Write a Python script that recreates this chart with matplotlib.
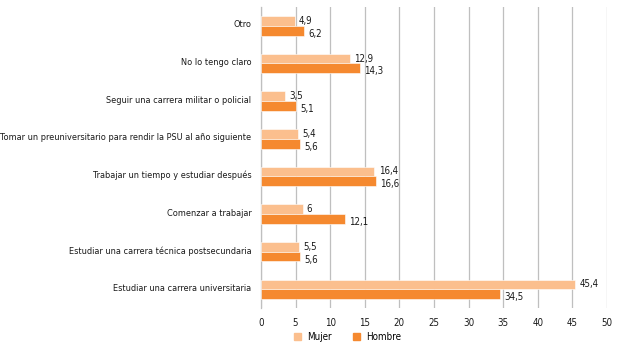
import matplotlib
matplotlib.use('Agg')
import matplotlib.pyplot as plt
import numpy as np
from matplotlib.patches import Patch

# Categorías de abajo hacia arriba
categorias = [
    'Estudiar una carrera universitaria',
    'Estudiar una carrera técnica postsecundaria',
    'Comenzar a trabajar',
    'Trabajar un tiempo y estudiar después',
    'Tomar un preuniversitario para rendir la PSU al año siguiente',
    'Seguir una carrera militar o policial',
    'No lo tengo claro',
    'Otro',
]
mujer = [45.4, 5.5, 6, 16.4, 5.4, 3.5, 12.9, 4.9]
hombre = [34.5, 5.6, 12.1, 16.6, 5.6, 5.1, 14.3, 6.2]
ticks_x = [0, 5, 10, 15, 20, 25, 30, 35, 40, 45, 50]

c_mujer = '#FBBF8E'
c_hombre = '#F5892F'

plt.rcParams['font.family'] = ['DejaVu Sans']
plt.rcParams['font.stretch'] = 'condensed'
fs = 7


def fmt(v):
    s = ('%.1f' % v).rstrip('0').rstrip('.')
    return s.replace('.', ',')


fig = plt.figure(figsize=(6.25, 3.47), dpi=100)
ax = fig.add_axes([0.4176, 0.112, 0.5536, 0.868])

y = np.arange(len(categorias))
h = 0.26
ax.barh(y + h / 2, mujer, height=h, color=c_mujer, edgecolor='white',
        linewidth=0.4, zorder=3)
ax.barh(y - h / 2, hombre, height=h, color=c_hombre, edgecolor='white',
        linewidth=0.4, zorder=3)

for i in range(len(categorias)):
    ax.text(mujer[i] + 0.6, y[i] + h / 2, fmt(mujer[i]), va='center',
            ha='left', fontsize=fs, color='#1a1a1a', zorder=4)
    ax.text(hombre[i] + 0.6, y[i] - h / 2 - 0.08, fmt(hombre[i]),
            va='center', ha='left', fontsize=fs, color='#1a1a1a', zorder=4)

ax.set_xlim(0, 50)
ax.set_ylim(-0.5, len(categorias) - 0.5)
ax.set_xticks(ticks_x)
ax.set_xticklabels([str(t) for t in ticks_x], fontsize=fs, color='#1a1a1a')
ax.set_yticks(y + 0.05)
ax.set_yticklabels(categorias, fontsize=6.6, color='#1a1a1a')
ax.tick_params(length=0, pad=7)
ax.xaxis.grid(True, color='#BFBFBF', linewidth=0.9, zorder=0)
for s in ['top', 'right', 'bottom']:
    ax.spines[s].set_visible(False)
ax.spines['left'].set_color('#BFBFBF')
ax.spines['left'].set_linewidth(0.9)

handles = [Patch(color=c_mujer, label='Mujer'),
           Patch(color=c_hombre, label='Hombre')]
fig.legend(handles=handles, loc='center', bbox_to_anchor=(0.556, 0.03),
           ncol=2, frameon=False, fontsize=fs, handlelength=0.7,
           handleheight=0.7, columnspacing=2.2, handletextpad=0.6)

fig.savefig('out.png', dpi=100)
